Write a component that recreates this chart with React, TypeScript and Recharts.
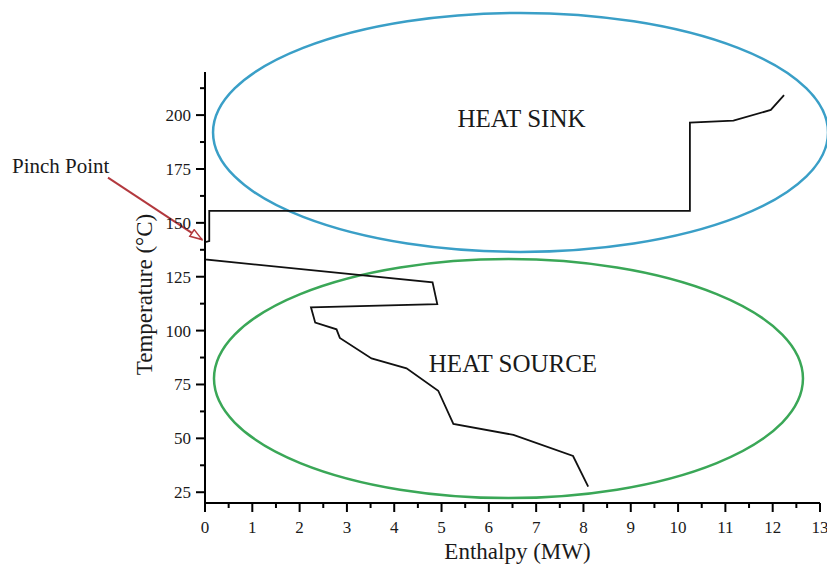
import React from 'react';
import { LineChart, Line, XAxis, YAxis, ReferenceArea, ReferenceDot } from 'recharts';

// Grand composite curve: enthalpy (MW) vs shifted temperature (°C)
const enthalpy = [12.24, 11.96, 11.17, 10.25, 10.25, 0.09, 0.09, 0.0, 0.0, 4.81, 4.91, 2.24, 2.33, 2.78, 2.85, 3.52, 4.26, 4.93, 5.25, 6.52, 7.78, 8.1];
const temperature = [209.3, 202.4, 197.4, 196.5, 155.6, 155.6, 141.5, 141.0, 133.0, 122.4, 112.3, 110.8, 103.7, 100.6, 96.6, 87.1, 82.5, 72.1, 56.7, 51.6, 41.8, 27.6];

const xMajorTicks = [0, 1, 2, 3, 4, 5, 6, 7, 8, 9, 10, 11, 12, 13];
const yMajorTicks = [25, 50, 75, 100, 125, 150, 175, 200];
const xTicks = xMajorTicks.flatMap((v, i) => (i < xMajorTicks.length - 1 ? [v, v + 0.5] : [v]));
const yTicks = yMajorTicks.flatMap((v) => [v, v + 12.5]);

// Region ellipses (bounds in data units)
const sinkRegion = { x1: 0.17, x2: 13.17, y1: 136.5, y2: 247.4 };
const sourceRegion = { x1: 0.19, x2: 12.64, y1: 22.3, y2: 133.2 };
const sinkLabel = { x: 6.69, y: 194.6, text: 'HEAT SINK' };
const sourceLabel = { x: 6.51, y: 80.9, text: 'HEAT SOURCE' };
const pinch = { x: 0, y: 141.3, text: 'Pinch Point' };

const data = enthalpy.map((x, i) => ({ x, y: temperature[i] }));

const FONT = '"Liberation Serif", "Times New Roman", serif';
const INK = '#1a1a1a';

const XTick = (props: any) => {
  const { x, y, payload } = props;
  const major = Number.isInteger(payload.value);
  return (
    <g>
      <line x1={x} y1={y} x2={x} y2={y + (major ? 9 : 5)} stroke="#000" strokeWidth={2} />
      {major && (
        <text x={x} y={y + 30} textAnchor="middle" fontFamily={FONT} fontSize={17} fill={INK}>
          {payload.value}
        </text>
      )}
    </g>
  );
};

const YTick = (props: any) => {
  const { x, y, payload } = props;
  const major = Number.isInteger(payload.value) && payload.value % 25 === 0;
  return (
    <g>
      <line x1={x} y1={y} x2={x - (major ? 9 : 5)} y2={y} stroke="#000" strokeWidth={2} />
      {major && (
        <text x={x - 14} y={y} dy="0.35em" textAnchor="end" fontFamily={FONT} fontSize={17} fill={INK}>
          {payload.value}
        </text>
      )}
    </g>
  );
};

const ellipseShape = (color: string) => (p: any) => (
  <ellipse
    cx={p.x + p.width / 2}
    cy={p.y + p.height / 2}
    rx={Math.abs(p.width) / 2}
    ry={Math.abs(p.height) / 2}
    fill="none"
    stroke={color}
    strokeWidth={2.5}
  />
);

const textShape = (text: string) => (p: any) => (
  <text x={p.cx} y={p.cy} textAnchor="middle" fontFamily={FONT} fontSize={25} fill={INK}>
    {text}
  </text>
);

const pinchShape = (p: any) => (
  <g>
    <line x1={p.cx - 97} y1={p.cy - 64} x2={p.cx - 3} y2={p.cy - 2} stroke="#b3393e" strokeWidth={2} markerEnd="url(#pinchArrow)" />
    <text x={p.cx - 193} y={p.cy - 69} fontFamily={FONT} fontSize={21} fill={INK}>
      {pinch.text}
    </text>
  </g>
);

const yTitle = (props: any) => {
  const vb = props.viewBox;
  const bx = vb.x + vb.width - 53;
  const cy = vb.y + vb.height / 2 + 7;
  return (
    <text x={bx} y={cy} transform={`rotate(-90 ${bx} ${cy})`} textAnchor="middle" fontFamily={FONT} fontSize={23} fill={INK}>
      Temperature (°C)
    </text>
  );
};

const xTitle = (props: any) => {
  const vb = props.viewBox;
  return (
    <text x={vb.x + vb.width / 2 + 5} y={vb.y + 56} textAnchor="middle" fontFamily={FONT} fontSize={23} fill={INK}>
      Enthalpy (MW)
    </text>
  );
};

export default function App() {
  return (
    <div style={{ position: 'absolute', left: 0, top: 0, background: '#fff' }}>
      <LineChart width={827} height={565} data={data} margin={{ top: 72, right: 7, bottom: 0, left: 0 }}>
        <defs>
          <marker id="pinchArrow" viewBox="0 0 14 10" refX="13" refY="5" markerWidth="14" markerHeight="10" markerUnits="userSpaceOnUse" orient="auto">
            <path d="M1,1 L13,5 L1,9 Z" fill="#fff" stroke="#b3393e" strokeWidth={1.5} />
          </marker>
        </defs>
        <XAxis
          type="number"
          dataKey="x"
          domain={[0, 13]}
          ticks={xTicks}
          interval={0}
          height={62}
          tickSize={0}
          tickMargin={0}
          tickLine={false}
          axisLine={{ stroke: '#000', strokeWidth: 2 }}
          tick={XTick}
          label={xTitle}
        />
        <YAxis
          type="number"
          dataKey="y"
          domain={[20, 220]}
          ticks={yTicks}
          interval={0}
          width={205}
          tickSize={0}
          tickMargin={0}
          tickLine={false}
          axisLine={{ stroke: '#000', strokeWidth: 2 }}
          tick={YTick}
          label={yTitle}
        />
        <ReferenceArea {...sinkRegion} ifOverflow="visible" shape={ellipseShape('#3a9fc7')} />
        <ReferenceArea {...sourceRegion} ifOverflow="visible" shape={ellipseShape('#3aa757')} />
        <ReferenceDot x={sinkLabel.x} y={sinkLabel.y} r={0} ifOverflow="visible" shape={textShape(sinkLabel.text)} />
        <ReferenceDot x={sourceLabel.x} y={sourceLabel.y} r={0} ifOverflow="visible" shape={textShape(sourceLabel.text)} />
        <Line type="linear" dataKey="y" stroke="#111" strokeWidth={1.8} dot={false} activeDot={false} isAnimationActive={false} />
        <ReferenceDot x={pinch.x} y={pinch.y} r={0} ifOverflow="visible" shape={pinchShape} />
      </LineChart>
    </div>
  );
}
